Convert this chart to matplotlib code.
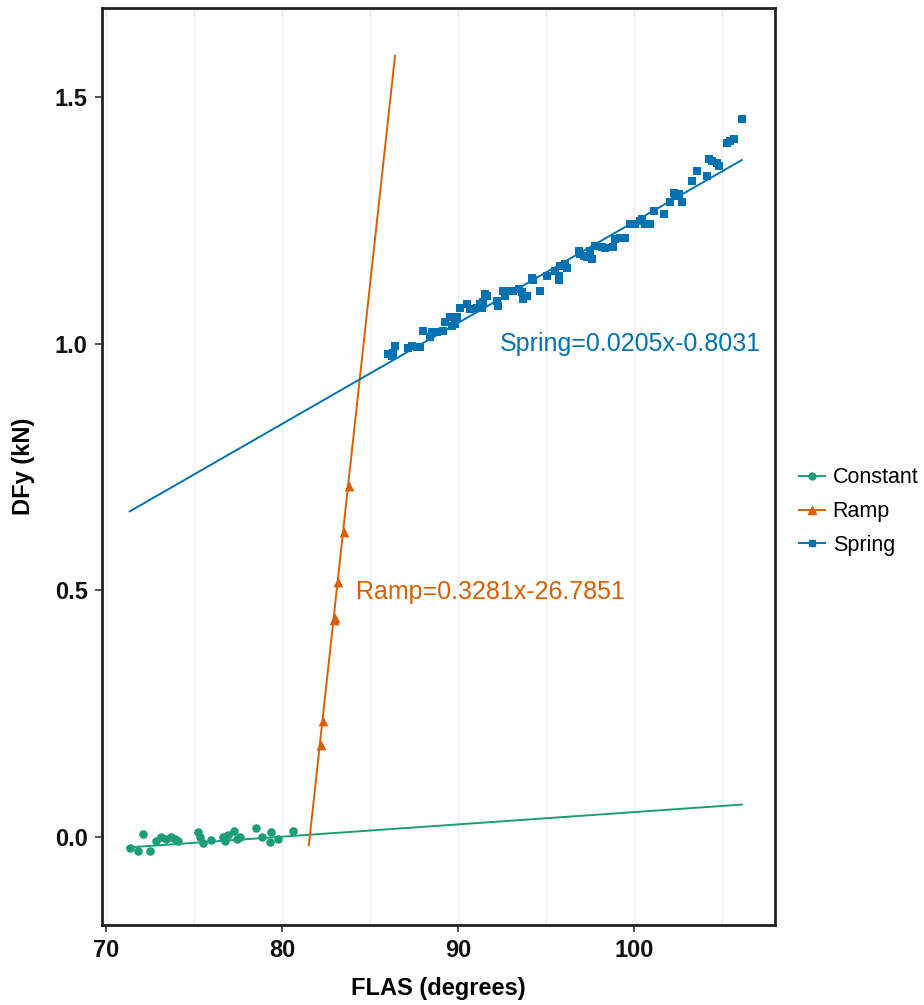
import numpy as np
import matplotlib
matplotlib.use("Agg")
import matplotlib.pyplot as plt
from matplotlib.lines import Line2D

# --- DATA ---
const_x = [71.40, 71.84, 72.09, 72.54, 72.88, 73.16, 73.45, 73.68, 73.92, 74.11,
           75.24, 75.34, 75.53, 76.00, 76.66, 76.76, 76.95, 77.29, 77.43, 77.61,
           78.52, 78.85, 79.32, 79.41, 79.79, 80.64]
const_y = [-0.022, -0.028, 0.007, -0.028, -0.008, 0.001, -0.003, 0.001, -0.004, -0.008,
           0.011, 0.001, -0.011, -0.006, 0.001, -0.007, 0.004, 0.013, -0.003, 0.001,
           0.018, 0.001, -0.009, 0.011, -0.003, 0.013]

ramp_x = [82.20, 82.35, 82.98, 83.00, 83.21, 83.52, 83.80]
ramp_y = [0.186, 0.235, 0.440, 0.445, 0.517, 0.619, 0.711]

spring_x = [86.02, 86.23, 86.32, 86.42, 87.18, 87.37, 87.65, 87.84, 88.03, 88.41,
            88.51, 88.79, 89.16, 89.26, 89.55, 89.64, 89.83, 89.93, 90.11, 90.49,
            90.68, 91.06, 91.25, 91.35, 91.44, 91.53, 91.63, 92.20, 92.29, 92.57,
            92.67, 92.86, 93.14, 93.43, 93.62, 93.71, 93.90, 94.19, 94.28, 94.66,
            95.04, 95.51, 95.70, 95.75, 95.80, 96.08, 96.18, 96.84, 96.93, 97.12,
            97.31, 97.50, 97.61, 97.78, 98.16, 98.35, 98.82, 98.92, 99.20, 99.49,
            99.77, 100.06, 100.34, 100.44, 100.63, 100.91, 101.10, 101.66, 102.05, 102.23,
            102.33, 102.52, 102.71, 103.28, 103.56, 104.13, 104.22, 104.41, 104.70, 104.79,
            105.27, 105.45, 105.64, 106.12]
spring_y = [0.980, 0.974, 0.982, 0.996, 0.991, 0.996, 0.994, 0.993, 1.026, 1.013,
            1.023, 1.023, 1.026, 1.043, 1.053, 1.036, 1.040, 1.053, 1.073, 1.080,
            1.070, 1.073, 1.080, 1.073, 1.084, 1.101, 1.097, 1.087, 1.077, 1.107,
            1.097, 1.107, 1.107, 1.111, 1.104, 1.090, 1.097, 1.134, 1.128, 1.107,
            1.138, 1.148, 1.138, 1.128, 1.158, 1.161, 1.154, 1.188, 1.182, 1.178,
            1.175, 1.188, 1.172, 1.198, 1.195, 1.194, 1.195, 1.212, 1.215, 1.215,
            1.242, 1.242, 1.249, 1.252, 1.242, 1.242, 1.269, 1.263, 1.286, 1.306,
            1.300, 1.303, 1.286, 1.330, 1.350, 1.340, 1.374, 1.370, 1.367, 1.360,
            1.407, 1.411, 1.414, 1.455]

# fitted lines (endpoints)
const_fit_x = [71.2, 106.1]
const_fit_y = [-0.021, 0.066]
ramp_fit_x = [81.53, 86.42]
ramp_fit_y = [-0.016, 1.583]
spring_fit_x = [71.36, 106.1]
spring_fit_y = [0.660, 1.372]

labels = ["Constant", "Ramp", "Spring"]
colors = ["#1b9e77", "#d95f02", "#0072b2"]

FONT = ["Liberation Sans Narrow", "Liberation Sans", "DejaVu Sans"]
REG = ["Liberation Sans", "DejaVu Sans"]
plt.rcParams["font.family"] = FONT

fig = plt.figure(figsize=(9.24, 10.05), dpi=100)
ax = fig.add_axes([0.110, 0.0796, 0.729, 0.9124])

# grid (vertical only, faint)
for gx in [70, 75, 80, 85, 90, 95, 100, 105]:
    ax.axvline(gx, color="#eeeeee", lw=1.0, zorder=0)

ax.plot(const_fit_x, const_fit_y, color=colors[0], lw=1.4, zorder=2)
ax.plot(ramp_fit_x, ramp_fit_y, color=colors[1], lw=1.4, zorder=2)
ax.plot(spring_fit_x, spring_fit_y, color=colors[2], lw=1.4, zorder=2)

ax.scatter(const_x, const_y, s=38, marker="o", color=colors[0], lw=0, zorder=3)
ax.scatter(ramp_x, ramp_y, s=50, marker="^", color=colors[1], lw=0, zorder=3)
ax.scatter(spring_x, spring_y, s=34, marker="s", color=colors[2], lw=0, zorder=3)

ax.text(92.35, 1.0, "Spring=0.0205x-0.8031", color=colors[2], fontsize=18,
        va="center", ha="left", family=REG)
ax.text(84.2, 0.497, "Ramp=0.3281x-26.7851", color=colors[1], fontsize=18,
        va="center", ha="left", family=REG)

ax.set_xlim(69.77, 108.0)
ax.set_ylim(-0.178, 1.68)
ax.set_xticks([70, 80, 90, 100])
ax.set_yticks([0.0, 0.5, 1.0, 1.5])
ax.set_yticklabels(["0.0", "0.5", "1.0", "1.5"])
ax.tick_params(axis="both", direction="out", length=5, width=1.2, color="#333333",
               labelsize=17, pad=5)
for lab in ax.get_xticklabels() + ax.get_yticklabels():
    lab.set_fontweight("bold")
    lab.set_color("#111111")

for sp in ax.spines.values():
    sp.set_linewidth(2.0)
    sp.set_color("#222222")

ax.set_xlabel("FLAS (degrees)", fontsize=17, fontweight="bold", labelpad=11)
ax.set_ylabel("DFy (kN)", fontsize=17, fontweight="bold", labelpad=14)

handles = [
    Line2D([], [], color=colors[0], marker="o", markersize=5, lw=1.4),
    Line2D([], [], color=colors[1], marker="^", markersize=6, lw=1.4),
    Line2D([], [], color=colors[2], marker="s", markersize=5, lw=1.4),
]
fig.legend(handles, labels, loc="center left", bbox_to_anchor=(0.865, 0.491),
           frameon=False, handlelength=1.2, handletextpad=0.35, borderpad=0.0,
           borderaxespad=0.0, labelspacing=0.6, prop={"family": REG, "size": 15.5})

fig.savefig("out.png", dpi=100)
